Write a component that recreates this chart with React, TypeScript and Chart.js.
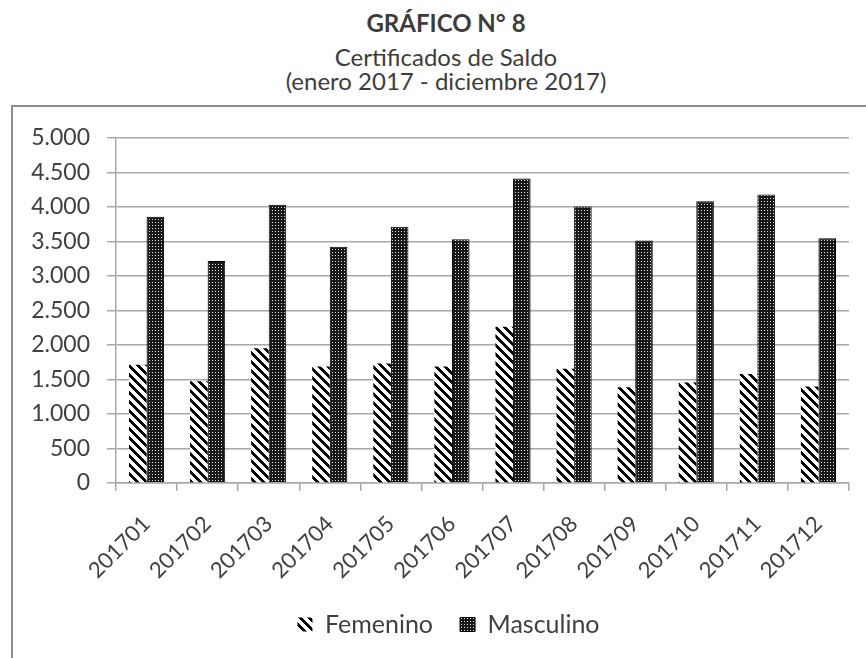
import React, { useEffect, useRef } from 'react';
import { Chart, registerables } from 'chart.js';

Chart.register(...registerables);

const categories = ['201701', '201702', '201703', '201704', '201705', '201706', '201707', '201708', '201709', '201710', '201711', '201712'];
const femenino = [1713, 1474, 1952, 1689, 1732, 1689, 2263, 1656, 1388, 1455, 1579, 1397];
const masculino = [3857, 3216, 4029, 3421, 3713, 3531, 4412, 4005, 3512, 4082, 4177, 3546];
const yMin = 0;
const yMax = 5000;
const yStep = 500;

const titleLines = ['GRÁFICO N° 8', 'Certificados de Saldo', '(enero 2017 - diciembre 2017)'];
const seriesNames = ['Femenino', 'Masculino'];

const FONT = 'Lato, "Open Sans", sans-serif';
const TEXT = '#404040';
const GRID = '#a8a8a8';

function stripePattern(): CanvasPattern | string {
  const n = 9;
  const c = document.createElement('canvas');
  c.width = n;
  c.height = n;
  const ctx = c.getContext('2d');
  if (!ctx) return '#000';
  const img = ctx.createImageData(n, n);
  for (let y = 0; y < n; y++) {
    for (let x = 0; x < n; x++) {
      const k = (((x - y) % n) + n) % n;
      const v = k < 4 ? 0 : 255;
      const i = (y * n + x) * 4;
      img.data[i] = v;
      img.data[i + 1] = v;
      img.data[i + 2] = v;
      img.data[i + 3] = 255;
    }
  }
  ctx.putImageData(img, 0, 0);
  return ctx.createPattern(c, 'repeat') || '#000';
}

function dotPattern(): CanvasPattern | string {
  const c = document.createElement('canvas');
  c.width = 3;
  c.height = 3;
  const ctx = c.getContext('2d');
  if (!ctx) return '#222';
  ctx.fillStyle = '#181818';
  ctx.fillRect(0, 0, 3, 3);
  ctx.fillStyle = '#e0e0e0';
  ctx.fillRect(1, 1, 1, 1);
  return ctx.createPattern(c, 'repeat') || '#222';
}

function fmt(v: number): string {
  return String(v).replace(/\B(?=(\d{3})+(?!\d))/g, '.');
}

const shiftLegend = {
  id: 'shiftLegend',
  afterLayout(chart: any) {
    const l = chart.legend;
    if (l) {
      l.left += 11;
      l.right += 11;
    }
  },
};

function ChartBox() {
  const ref = useRef<HTMLCanvasElement | null>(null);
  useEffect(() => {
    if (!ref.current) return;
    const fem = stripePattern();
    const mas = dotPattern();
    const chart = new Chart(ref.current, {
      type: 'bar',
      data: {
        labels: categories,
        datasets: [
          {
            label: seriesNames[0],
            data: femenino,
            backgroundColor: fem as any,
            borderWidth: 0,
            barPercentage: 1,
            categoryPercentage: 0.575,
          },
          {
            label: seriesNames[1],
            data: masculino,
            backgroundColor: mas as any,
            borderColor: '#000',
            borderWidth: 1,
            barPercentage: 1,
            categoryPercentage: 0.575,
          },
        ],
      },
      plugins: [shiftLegend],
      options: {
        animation: false,
        responsive: false,
        maintainAspectRatio: false,
        layout: { padding: { left: 13, right: 30, top: 29, bottom: 5 } },
        plugins: {
          legend: {
            position: 'bottom',
            labels: {
              font: { family: FONT, size: 25 },
              color: TEXT,
              boxWidth: 15,
              boxHeight: 14,
              padding: 27,
            },
          },
          tooltip: { enabled: false },
          title: { display: false },
        },
        scales: {
          x: {
            offset: true,
            grid: {
              offset: true,
              drawOnChartArea: false,
              drawTicks: true,
              tickLength: 8,
              color: GRID,
              lineWidth: 1.5,
            },
            border: { display: true, color: GRID, width: 1.5 },
            ticks: {
              font: { family: FONT, size: 22 },
              color: TEXT,
              minRotation: 45,
              maxRotation: 45,
              padding: 20,
              autoSkip: false,
            },
            afterFit: (s: any) => {
              s.height = 102;
            },
          },
          y: {
            min: yMin,
            max: yMax,
            ticks: {
              stepSize: yStep,
              font: { family: FONT, size: 23 },
              color: TEXT,
              padding: 17,
              callback: (v: any) => fmt(Number(v)),
            },
            grid: {
              color: GRID,
              lineWidth: 1.5,
              drawTicks: true,
              tickLength: 9,
            },
            border: { display: true, color: GRID, width: 1.5 },
            afterFit: (s: any) => {
              s.width = 90;
            },
          },
        },
      },
    });
    return () => chart.destroy();
  }, []);
  return <canvas ref={ref} width={866} height={545} style={{ display: 'block', width: 866, height: 545 }} />;
}

export default function App() {
  const lineTops = [9, 43, 67];
  return (
    <div style={{ position: 'fixed', left: 0, top: 0, width: 866, height: 658, overflow: 'hidden', background: '#fff' }}>
      {titleLines.map((t, i) => (
        <div
          key={i}
          style={{
            position: 'absolute',
            left: 12,
            width: 868,
            top: lineTops[i],
            textAlign: 'center',
            fontFamily: FONT,
            fontSize: 24,
            lineHeight: '28.8px',
            fontWeight: i === 0 ? 700 : 400,
            color: '#3c3c3c',
            whiteSpace: 'nowrap',
          }}
        >
          {t}
        </div>
      ))}
      <div
        style={{
          position: 'absolute',
          left: 11,
          top: 105,
          width: 870,
          height: 620,
          boxSizing: 'border-box',
          border: '2px solid #8c8c8c',
        }}
      >
        <ChartBox />
      </div>
    </div>
  );
}
